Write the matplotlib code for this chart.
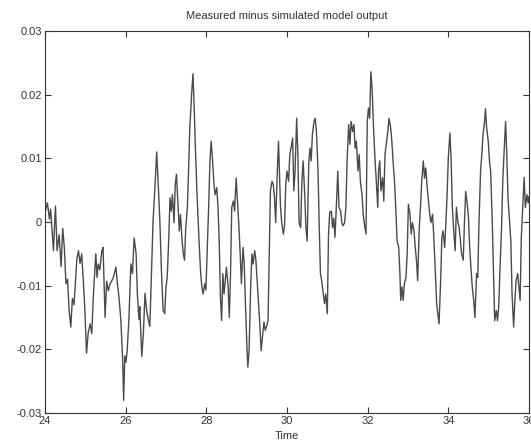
import numpy as np
import matplotlib.pyplot as plt

# values (time, measured - simulated)
time = [
    24.00, 24.06, 24.11, 24.14, 24.21, 24.23, 24.26, 24.30, 24.35, 24.40,
    24.44, 24.48, 24.52, 24.56, 24.60, 24.64, 24.68, 24.72, 24.79, 24.83,
    24.87, 24.91, 24.95, 24.99, 25.03, 25.07, 25.12, 25.16, 25.20, 25.26,
    25.29, 25.32, 25.36, 25.41, 25.44, 25.49, 25.53, 25.57, 25.61, 25.65,
    25.69, 25.76, 25.79, 25.84, 25.88, 25.93, 25.95, 25.98, 26.01, 26.04,
    26.08, 26.13, 26.17, 26.21, 26.26, 26.29, 26.33, 26.35, 26.40, 26.44,
    26.48, 26.52, 26.56, 26.60, 26.64, 26.68, 26.73, 26.77, 26.81, 26.85,
    26.89, 26.93, 26.97, 27.00, 27.03, 27.07, 27.10, 27.13, 27.16, 27.20,
    27.23, 27.26, 27.30, 27.33, 27.36, 27.40, 27.43, 27.46, 27.49, 27.53,
    27.56, 27.59, 27.64, 27.67, 27.70, 27.73, 27.77, 27.82, 27.86, 27.89,
    27.92, 27.96, 27.99, 28.02, 28.06, 28.09, 28.12, 28.16, 28.19, 28.22,
    28.26, 28.29, 28.32, 28.35, 28.38, 28.41, 28.44, 28.47, 28.50, 28.54,
    28.57, 28.60, 28.63, 28.67, 28.70, 28.74, 28.78, 28.81, 28.84, 28.87,
    28.91, 28.94, 28.97, 29.01, 29.03, 29.06, 29.10, 29.13, 29.16, 29.20,
    29.23, 29.26, 29.30, 29.33, 29.36, 29.40, 29.43, 29.46, 29.49, 29.53,
    29.56, 29.59, 29.63, 29.66, 29.69, 29.72, 29.76, 29.79, 29.84, 29.87,
    29.91, 29.94, 29.97, 30.00, 30.04, 30.07, 30.10, 30.14, 30.17, 30.20,
    30.24, 30.27, 30.30, 30.34, 30.37, 30.40, 30.44, 30.47, 30.50, 30.54,
    30.57, 30.60, 30.63, 30.67, 30.70, 30.73, 30.77, 30.80, 30.83, 30.86,
    30.90, 30.93, 30.96, 31.00, 31.03, 31.06, 31.10, 31.13, 31.16, 31.19,
    31.23, 31.26, 31.29, 31.33, 31.36, 31.39, 31.43, 31.46, 31.49, 31.53,
    31.56, 31.59, 31.63, 31.66, 31.69, 31.72, 31.76, 31.79, 31.82, 31.86,
    31.89, 31.92, 31.96, 31.99, 32.02, 32.05, 32.08, 32.11, 32.15, 32.18,
    32.21, 32.25, 32.27, 32.30, 32.33, 32.37, 32.40, 32.43, 32.47, 32.50,
    32.53, 32.57, 32.60, 32.63, 32.67, 32.70, 32.73, 32.77, 32.80, 32.82,
    32.85, 32.88, 32.91, 32.95, 32.98, 33.01, 33.05, 33.08, 33.11, 33.15,
    33.18, 33.21, 33.24, 33.28, 33.31, 33.34, 33.38, 33.41, 33.44, 33.47,
    33.51, 33.54, 33.57, 33.61, 33.64, 33.67, 33.71, 33.74, 33.77, 33.81,
    33.84, 33.87, 33.91, 33.94, 33.97, 34.00, 34.04, 34.07, 34.10, 34.14,
    34.17, 34.20, 34.24, 34.27, 34.30, 34.33, 34.37, 34.40, 34.43, 34.47,
    34.50, 34.53, 34.57, 34.60, 34.63, 34.66, 34.70, 34.73, 34.76, 34.80,
    34.83, 34.86, 34.90, 34.92, 34.95, 34.99, 35.02, 35.05, 35.09, 35.12,
    35.15, 35.19, 35.22, 35.25, 35.28, 35.32, 35.35, 35.38, 35.42, 35.45,
    35.48, 35.52, 35.55, 35.58, 35.62, 35.65, 35.68, 35.72, 35.75, 35.78,
    35.81, 35.85, 35.88, 35.91, 35.95, 35.98, 36.00,
]

residual = [
    0.0015, 0.0030, 0.0005, 0.0020, -0.0045, -0.0015, 0.0025, -0.0045, -0.0020, -0.0070,
    -0.0010, -0.0040, -0.0097, -0.0090, -0.0139, -0.0165, -0.0120, -0.0130, -0.0058, -0.0045,
    -0.0065, -0.0050, -0.0092, -0.0139, -0.0206, -0.0175, -0.0160, -0.0175, -0.0115, -0.0050,
    -0.0087, -0.0066, -0.0075, -0.0045, -0.0040, -0.0150, -0.0093, -0.0108, -0.0098, -0.0093,
    -0.0088, -0.0071, -0.0093, -0.0122, -0.0153, -0.0222, -0.0280, -0.0210, -0.0220, -0.0200,
    -0.0153, -0.0066, -0.0081, -0.0025, -0.0050, -0.0112, -0.0153, -0.0133, -0.0211, -0.0175,
    -0.0112, -0.0138, -0.0153, -0.0164, -0.0081, 0.0002, 0.0059, 0.0110, 0.0057, -0.0001,
    -0.0081, -0.0139, -0.0144, -0.0102, -0.0088, -0.0025, 0.0038, 0.0017, 0.0043, -0.0001,
    0.0059, 0.0075, 0.0023, -0.0014, 0.0012, -0.0030, -0.0050, -0.0060, -0.0009, 0.0023,
    0.0080, 0.0147, 0.0205, 0.0233, 0.0178, 0.0116, 0.0043, -0.0030, -0.0081, -0.0102,
    -0.0113, -0.0097, -0.0107, -0.0050, 0.0028, 0.0096, 0.0127, 0.0091, 0.0059, 0.0043,
    0.0054, 0.0023, -0.0030, -0.0118, -0.0155, -0.0081, -0.0113, -0.0092, -0.0071, -0.0102,
    -0.0150, -0.0081, 0.0023, 0.0033, 0.0017, 0.0069, 0.0023, -0.0009, -0.0050, -0.0097,
    -0.0040, -0.0066, -0.0128, -0.0202, -0.0228, -0.0202, -0.0102, -0.0050, -0.0066, -0.0045,
    -0.0060, -0.0092, -0.0133, -0.0165, -0.0202, -0.0175, -0.0157, -0.0170, -0.0165, -0.0155,
    -0.0050, 0.0049, 0.0064, 0.0059, 0.0038, -0.0001, 0.0080, 0.0127, 0.0023, -0.0001,
    -0.0019, -0.0005, 0.0059, 0.0080, 0.0064, 0.0106, 0.0116, 0.0132, 0.0049, 0.0080,
    0.0163, 0.0106, -0.0001, -0.0009, 0.0064, 0.0096, 0.0043, -0.0009, -0.0030, 0.0091,
    0.0116, 0.0096, 0.0137, 0.0158, 0.0163, 0.0142, 0.0080, -0.0009, -0.0081, -0.0092,
    -0.0113, -0.0128, -0.0113, -0.0144, -0.0019, 0.0015, 0.0017, -0.0009, 0.0006, -0.0024,
    0.0033, 0.0080, 0.0023, 0.0017, -0.0001, -0.0006, -0.0001, 0.0023, 0.0096, 0.0153,
    0.0122, 0.0158, 0.0142, 0.0153, 0.0116, 0.0127, 0.0080, 0.0106, 0.0064, 0.0043,
    0.0012, -0.0004, -0.0019, 0.0158, 0.0179, 0.0163, 0.0236, 0.0210, 0.0142, 0.0101,
    0.0069, 0.0023, 0.0080, 0.0096, 0.0049, 0.0070, 0.0033, 0.0106, 0.0127, 0.0142,
    0.0163, 0.0148, 0.0127, 0.0096, 0.0059, 0.0017, -0.0030, -0.0040, -0.0081, -0.0123,
    -0.0102, -0.0123, -0.0097, -0.0087, -0.0050, 0.0028, 0.0012, -0.0019, -0.0001, -0.0014,
    -0.0040, -0.0060, -0.0092, -0.0009, 0.0023, 0.0064, 0.0096, 0.0069, 0.0085, 0.0059,
    0.0033, 0.0012, -0.0001, 0.0012, -0.0024, -0.0066, -0.0128, -0.0144, -0.0160, -0.0092,
    -0.0024, -0.0014, -0.0040, -0.0001, 0.0043, 0.0101, 0.0140, 0.0096, 0.0023, -0.0019,
    -0.0045, 0.0023, -0.0001, -0.0009, -0.0030, -0.0050, -0.0060, -0.0001, 0.0048, 0.0028,
    0.0007, -0.0040, -0.0081, -0.0107, -0.0123, -0.0150, -0.0081, -0.0087, -0.0001, 0.0080,
    0.0106, 0.0137, 0.0158, 0.0178, 0.0148, 0.0127, 0.0096, 0.0080, -0.0001, -0.0081,
    -0.0155, -0.0139, -0.0155, -0.0133, -0.0076, -0.0009, 0.0064, 0.0106, 0.0158, 0.0106,
    0.0038, -0.0001, -0.0030, -0.0113, -0.0165, -0.0123, -0.0092, -0.0081, -0.0102, -0.0123,
    -0.0024, 0.0028, 0.0070, 0.0023, 0.0043, 0.0030, 0.0040,
]

xticks = [24, 26, 28, 30, 32, 34, 36]
yticks = [-0.03, -0.02, -0.01, 0, 0.01, 0.02, 0.03]
ytick_labels = ['-0.03', '-0.02', '-0.01', '0', '0.01', '0.02', '0.03']

plt.rcParams['font.family'] = ['Liberation Sans', 'DejaVu Sans']

fig = plt.figure(figsize=(5.31, 4.45), dpi=100)
ax = fig.add_axes([0.0847, 0.0719, 0.9115, 0.8584])

ax.plot(time, residual, color='#4a4a4a', linewidth=1.0)

ax.set_xlim(24, 36)
ax.set_ylim(-0.03, 0.03)
ax.set_xticks(xticks)
ax.set_xticklabels([str(t) for t in xticks])
ax.set_yticks(yticks)
ax.set_yticklabels(ytick_labels)
ax.tick_params(direction='in', length=4, width=0.8, top=True, right=True,
               labelsize=8, colors='#333333', pad=2)
for sp in ax.spines.values():
    sp.set_color('#333333')
    sp.set_linewidth(0.8)

ax.set_title('Measured minus simulated model output', fontsize=8, color='#333333', pad=9)
ax.set_xlabel('Time', fontsize=8, color='#333333', labelpad=4)

fig.savefig('out.png', dpi=100)
